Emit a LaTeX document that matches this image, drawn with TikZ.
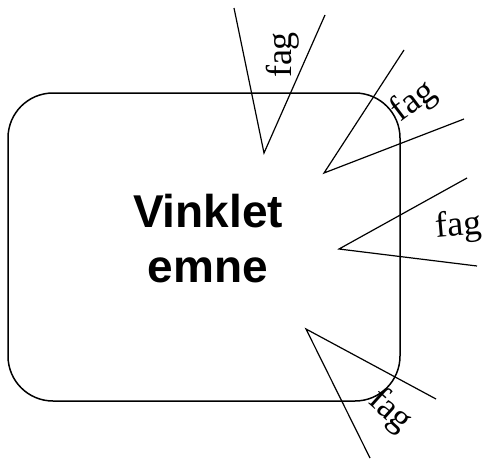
\documentclass[tikz,border=0pt]{standalone}
\usepackage{fontspec}
\setmainfont{Liberation Serif}
\setsansfont{Liberation Sans}
\usetikzlibrary{positioning}

\begin{document}
\begin{tikzpicture}[x=1pt,y=-1pt,
    emnebox/.style={draw, line width=1.5pt, rounded corners=45pt,
      minimum width=392pt, minimum height=308pt, inner sep=0pt},
    kile/.style={line width=1.2pt},
    fagtekst/.style={font=\fontsize{36}{42}\selectfont, inner sep=0pt}]
  \useasboundingbox (0,0) rectangle (486,461);

  \node (emne) [emnebox] at (204,247) {};
  \node (titel) [align=center, inner sep=0pt,
    font=\sffamily\bfseries\fontsize{46}{55}\selectfont] at (208,238.5) {Vinklet\\emne};

  % kilerne, spids og to ender
  \coordinate (ka) at (264,153);
  \coordinate (kal) at (234,8);
  \coordinate (kar) at (325,15);

  \coordinate (kb) at (324,173);
  \coordinate (kbl) at (404,50);
  \coordinate (kbr) at (464,119);

  \coordinate (kc) at (339,249);
  \coordinate (kcl) at (467,178);
  \coordinate (kcr) at (477,266);

  \coordinate (kd) at (306,329);
  \coordinate (kdl) at (436,399);
  \coordinate (kdr) at (370,458);

  \draw [kile] (kal) -- (ka) -- (kar);
  \draw [kile] (kbl) -- (kb) -- (kbr);
  \draw [kile] (kcl) -- (kc) -- (kcr);
  \draw [kile] (kdl) -- (kd) -- (kdr);

  \node (faga) [fagtekst, rotate=90] at (283,55) {fag};
  \node (fagb) [fagtekst, rotate=37] at (414,102) {fag};
  \node (fagc) [fagtekst, rotate=5] at (459,227) {fag};
  \node (fagd) [fagtekst, rotate=-42] at (390,411) {fag};
\end{tikzpicture}
\end{document}
